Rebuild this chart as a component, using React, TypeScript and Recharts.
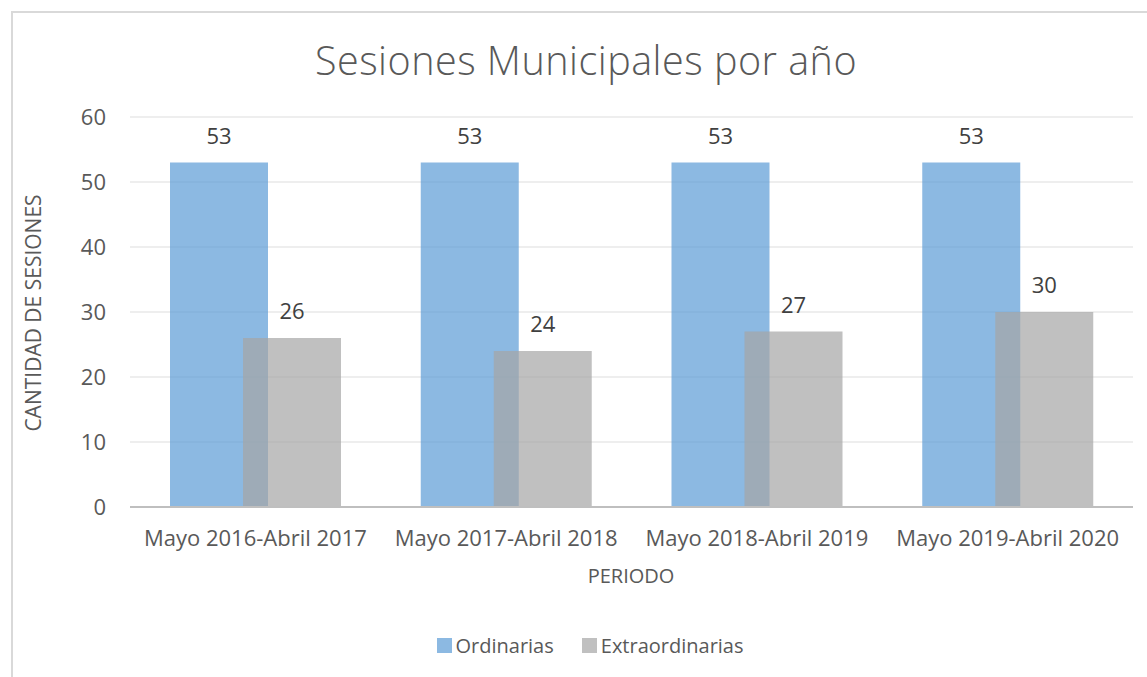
import React from 'react';
import { BarChart, Bar, XAxis, YAxis, CartesianGrid, LabelList } from 'recharts';

const periodos = ['Mayo 2016-Abril 2017', 'Mayo 2017-Abril 2018', 'Mayo 2018-Abril 2019', 'Mayo 2019-Abril 2020'];
const ordinarias = [53, 53, 53, 53];
const extraordinarias = [26, 24, 27, 30];
const yTicks = [0, 10, 20, 30, 40, 50, 60];

const data = periodos.map((periodo, i) => ({
  periodo,
  ordinarias: ordinarias[i],
  extraordinarias: extraordinarias[i],
}));

const FONT = '"Open Sans", sans-serif';
const TEXT = '#595959';

export default function App() {
  return (
    <div style={{ position: 'absolute', left: 0, top: 0, width: 1147, height: 677, background: '#fff', fontFamily: FONT, overflow: 'hidden' }}>
      <div style={{ position: 'absolute', left: 11, top: 11, width: 1200, height: 700, borderTop: '2px solid #D9D9D9', borderLeft: '2px solid #D9D9D9' }} />

      <div style={{ position: 'absolute', left: 0, width: 1172, top: 33, textAlign: 'center', fontSize: 39.5, fontWeight: 300, color: TEXT, letterSpacing: 0.5 }}>
        Sesiones Municipales por año
      </div>

      <BarChart
        width={1147}
        height={677}
        data={data}
        margin={{ top: 117, right: 14, bottom: 110, left: 20 }}
        barSize={98}
        barGap={-25}
        style={{ position: 'absolute', left: 0, top: 0 }}
      >
        <CartesianGrid vertical={false} stroke="#EEEEEE" strokeWidth={2} />
        <XAxis
          dataKey="periodo"
          height={60}
          tickLine={false}
          tickSize={0}
          tickMargin={23}
          axisLine={{ stroke: '#BFBFBF', strokeWidth: 2 }}
          tick={{ fill: TEXT, fontSize: 22, fontFamily: FONT }}
          interval={0}
        />
        <YAxis
          width={110}
          domain={[0, 60]}
          ticks={yTicks}
          tickLine={false}
          axisLine={false}
          tickSize={0}
          tickMargin={24}
          tick={{ fill: TEXT, fontSize: 22, fontFamily: FONT }}
        />
        <Bar dataKey="ordinarias" fill="#5B9BD5" fillOpacity={0.7} isAnimationActive={false}>
          <LabelList dataKey="ordinarias" position="top" offset={19} fill="#404040" fontSize={22} fontFamily={FONT} />
        </Bar>
        <Bar dataKey="extraordinarias" fill="#A5A5A5" fillOpacity={0.7} isAnimationActive={false}>
          <LabelList dataKey="extraordinarias" position="top" offset={19} fill="#404040" fontSize={22} fontFamily={FONT} />
        </Bar>
      </BarChart>

      <div style={{ position: 'absolute', left: 0, width: 1262, top: 562, textAlign: 'center', fontSize: 20, color: TEXT }}>
        PERIODO
      </div>
      <div style={{ position: 'absolute', left: 33, top: 313, width: 0, height: 0 }}>
        <div style={{ position: 'absolute', transform: 'translate(-50%, -50%) rotate(-90deg)', whiteSpace: 'nowrap', fontSize: 21, color: TEXT }}>
          CANTIDAD DE SESIONES
        </div>
      </div>

      <div style={{ position: 'absolute', left: 0, width: 1180, top: 632, display: 'flex', justifyContent: 'center', alignItems: 'center', fontSize: 20, color: TEXT }}>
        <div style={{ display: 'flex', alignItems: 'center', marginRight: 28 }}>
          <div style={{ width: 15, height: 15, background: '#5B9BD5', opacity: 0.7, marginRight: 4 }} />
          <span>Ordinarias</span>
        </div>
        <div style={{ display: 'flex', alignItems: 'center' }}>
          <div style={{ width: 15, height: 15, background: '#A5A5A5', opacity: 0.7, marginRight: 4 }} />
          <span>Extraordinarias</span>
        </div>
      </div>
    </div>
  );
}
